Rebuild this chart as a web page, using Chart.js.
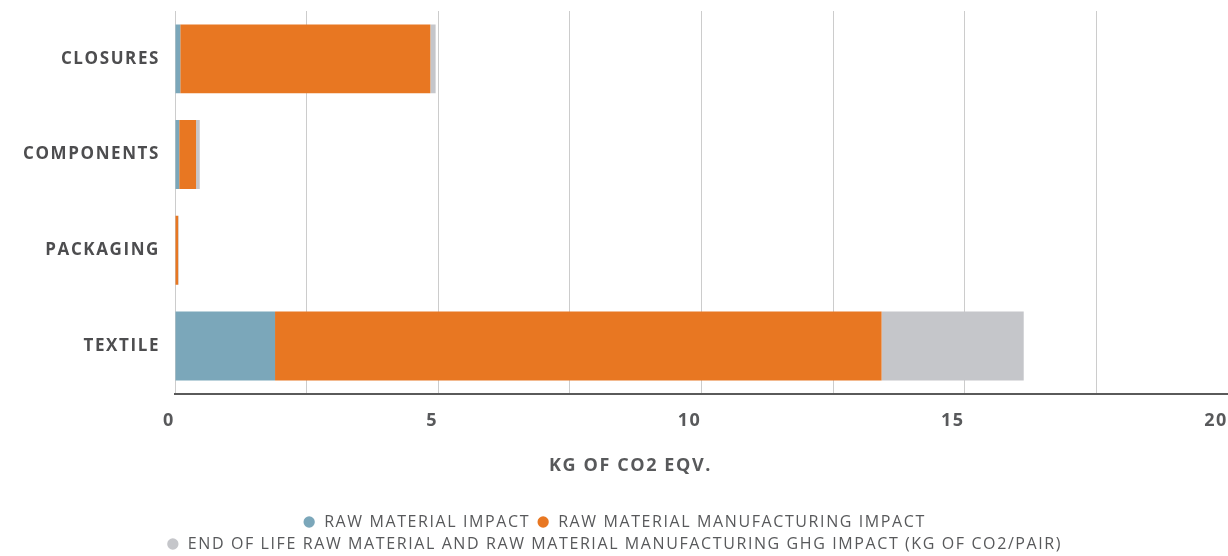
<!DOCTYPE html>
<html>
<head>
<meta charset="utf-8">
<script src="https://cdn.jsdelivr.net/npm/chart.js@4"></script>
<style>
html,body{margin:0;padding:0;background:#fff;}
#wrap{width:1228px;height:556px;position:relative;}
</style>
</head>
<body>
<div id="wrap"><canvas id="c" width="1228" height="556"></canvas></div>
<script>
const categories = ["CLOSURES", "COMPONENTS", "PACKAGING", "TEXTILE"];
const rawMaterial = [0.1, 0.08, 0.01, 1.9];
const rawManufacturing = [4.75, 0.32, 0.05, 11.52];
const endOfLife = [0.1, 0.07, 0.01, 2.7];
const seriesNames = [
  "RAW MATERIAL IMPACT",
  "RAW MATERIAL MANUFACTURING IMPACT",
  "END OF LIFE RAW MATERIAL AND RAW MATERIAL MANUFACTURING GHG IMPACT (KG OF CO2/PAIR)"
];
const axisTitle = "KG OF CO2 EQV.";

const colors = ["#7BA7BA", "#E87722", "#C5C6CA"];
const series = [rawMaterial, rawManufacturing, endOfLife];

const LS = "1.6px";
const TITLE_SHIFT = -71;
const spacingPlugin = {
  id: "letterSpacing",
  beforeInit(c) { c.ctx.letterSpacing = LS; },
  beforeUpdate(c) { c.ctx.letterSpacing = LS; },
  beforeLayout(c) { c.ctx.letterSpacing = LS; },
  afterLayout(c) {
    const s = c.scales.x;
    if (!s._titlePatched) {
      const orig = s.drawTitle.bind(s);
      s.drawTitle = function () {
        const ctx = this.ctx;
        ctx.save();
        ctx.translate(TITLE_SHIFT, 0);
        orig();
        ctx.restore();
      };
      s._titlePatched = true;
    }
  },
  beforeDraw(c) { c.ctx.letterSpacing = LS; }
};

new Chart(document.getElementById("c"), {
  type: "bar",
  data: {
    labels: categories,
    datasets: series.map((d, i) => ({
      label: seriesNames[i],
      data: d,
      backgroundColor: colors[i],
      borderWidth: 0,
      barPercentage: 0.72,
      categoryPercentage: 1.0
    }))
  },
  plugins: [spacingPlugin],
  options: {
    indexAxis: "y",
    responsive: false,
    animation: false,
    layout: { padding: { top: 11, right: 0, left: 0, bottom: -6 } },
    scales: {
      x: {
        stacked: true,
        min: 0,
        max: 20,
        afterFit(s) { s.paddingRight = 0; s.paddingLeft = 0; },
        ticks: {
          stepSize: 2.5,
          autoSkip: false,
          maxRotation: 0,
          align: "end",
          padding: 16,
          color: "#58595B",
          font: { family: "Open Sans", weight: "bold", size: 18 },
          callback: function (v) { return v % 5 === 0 ? String(v) : ""; }
        },
        grid: { color: "#cccccc", lineWidth: 1, drawTicks: false },
        border: { color: "#5a5a5a", width: 2 },
        title: {
          display: true,
          text: axisTitle,
          color: "#58595B",
          font: { family: "Open Sans", weight: "bold", size: 18 },
          padding: { top: 8, bottom: 31 }
        }
      },
      y: {
        stacked: true,
        afterFit(s) { s.width = 175; s.paddingTop = 0; s.paddingBottom = 0; },
        ticks: {
          color: "#4D4D4F",
          padding: 15,
          font: { family: "Open Sans", weight: "bold", size: 17 }
        },
        grid: { display: false, drawTicks: false },
        border: { display: false }
      }
    },
    plugins: {
      legend: {
        position: "bottom",
        labels: {
          usePointStyle: true,
          pointStyle: "circle",
          boxWidth: 14,
          boxHeight: 8,
          padding: 6,
          color: "#58595B",
          font: { family: "Open Sans", size: 16 }
        }
      },
      tooltip: { enabled: false }
    }
  }
});
</script>
</body>
</html>
